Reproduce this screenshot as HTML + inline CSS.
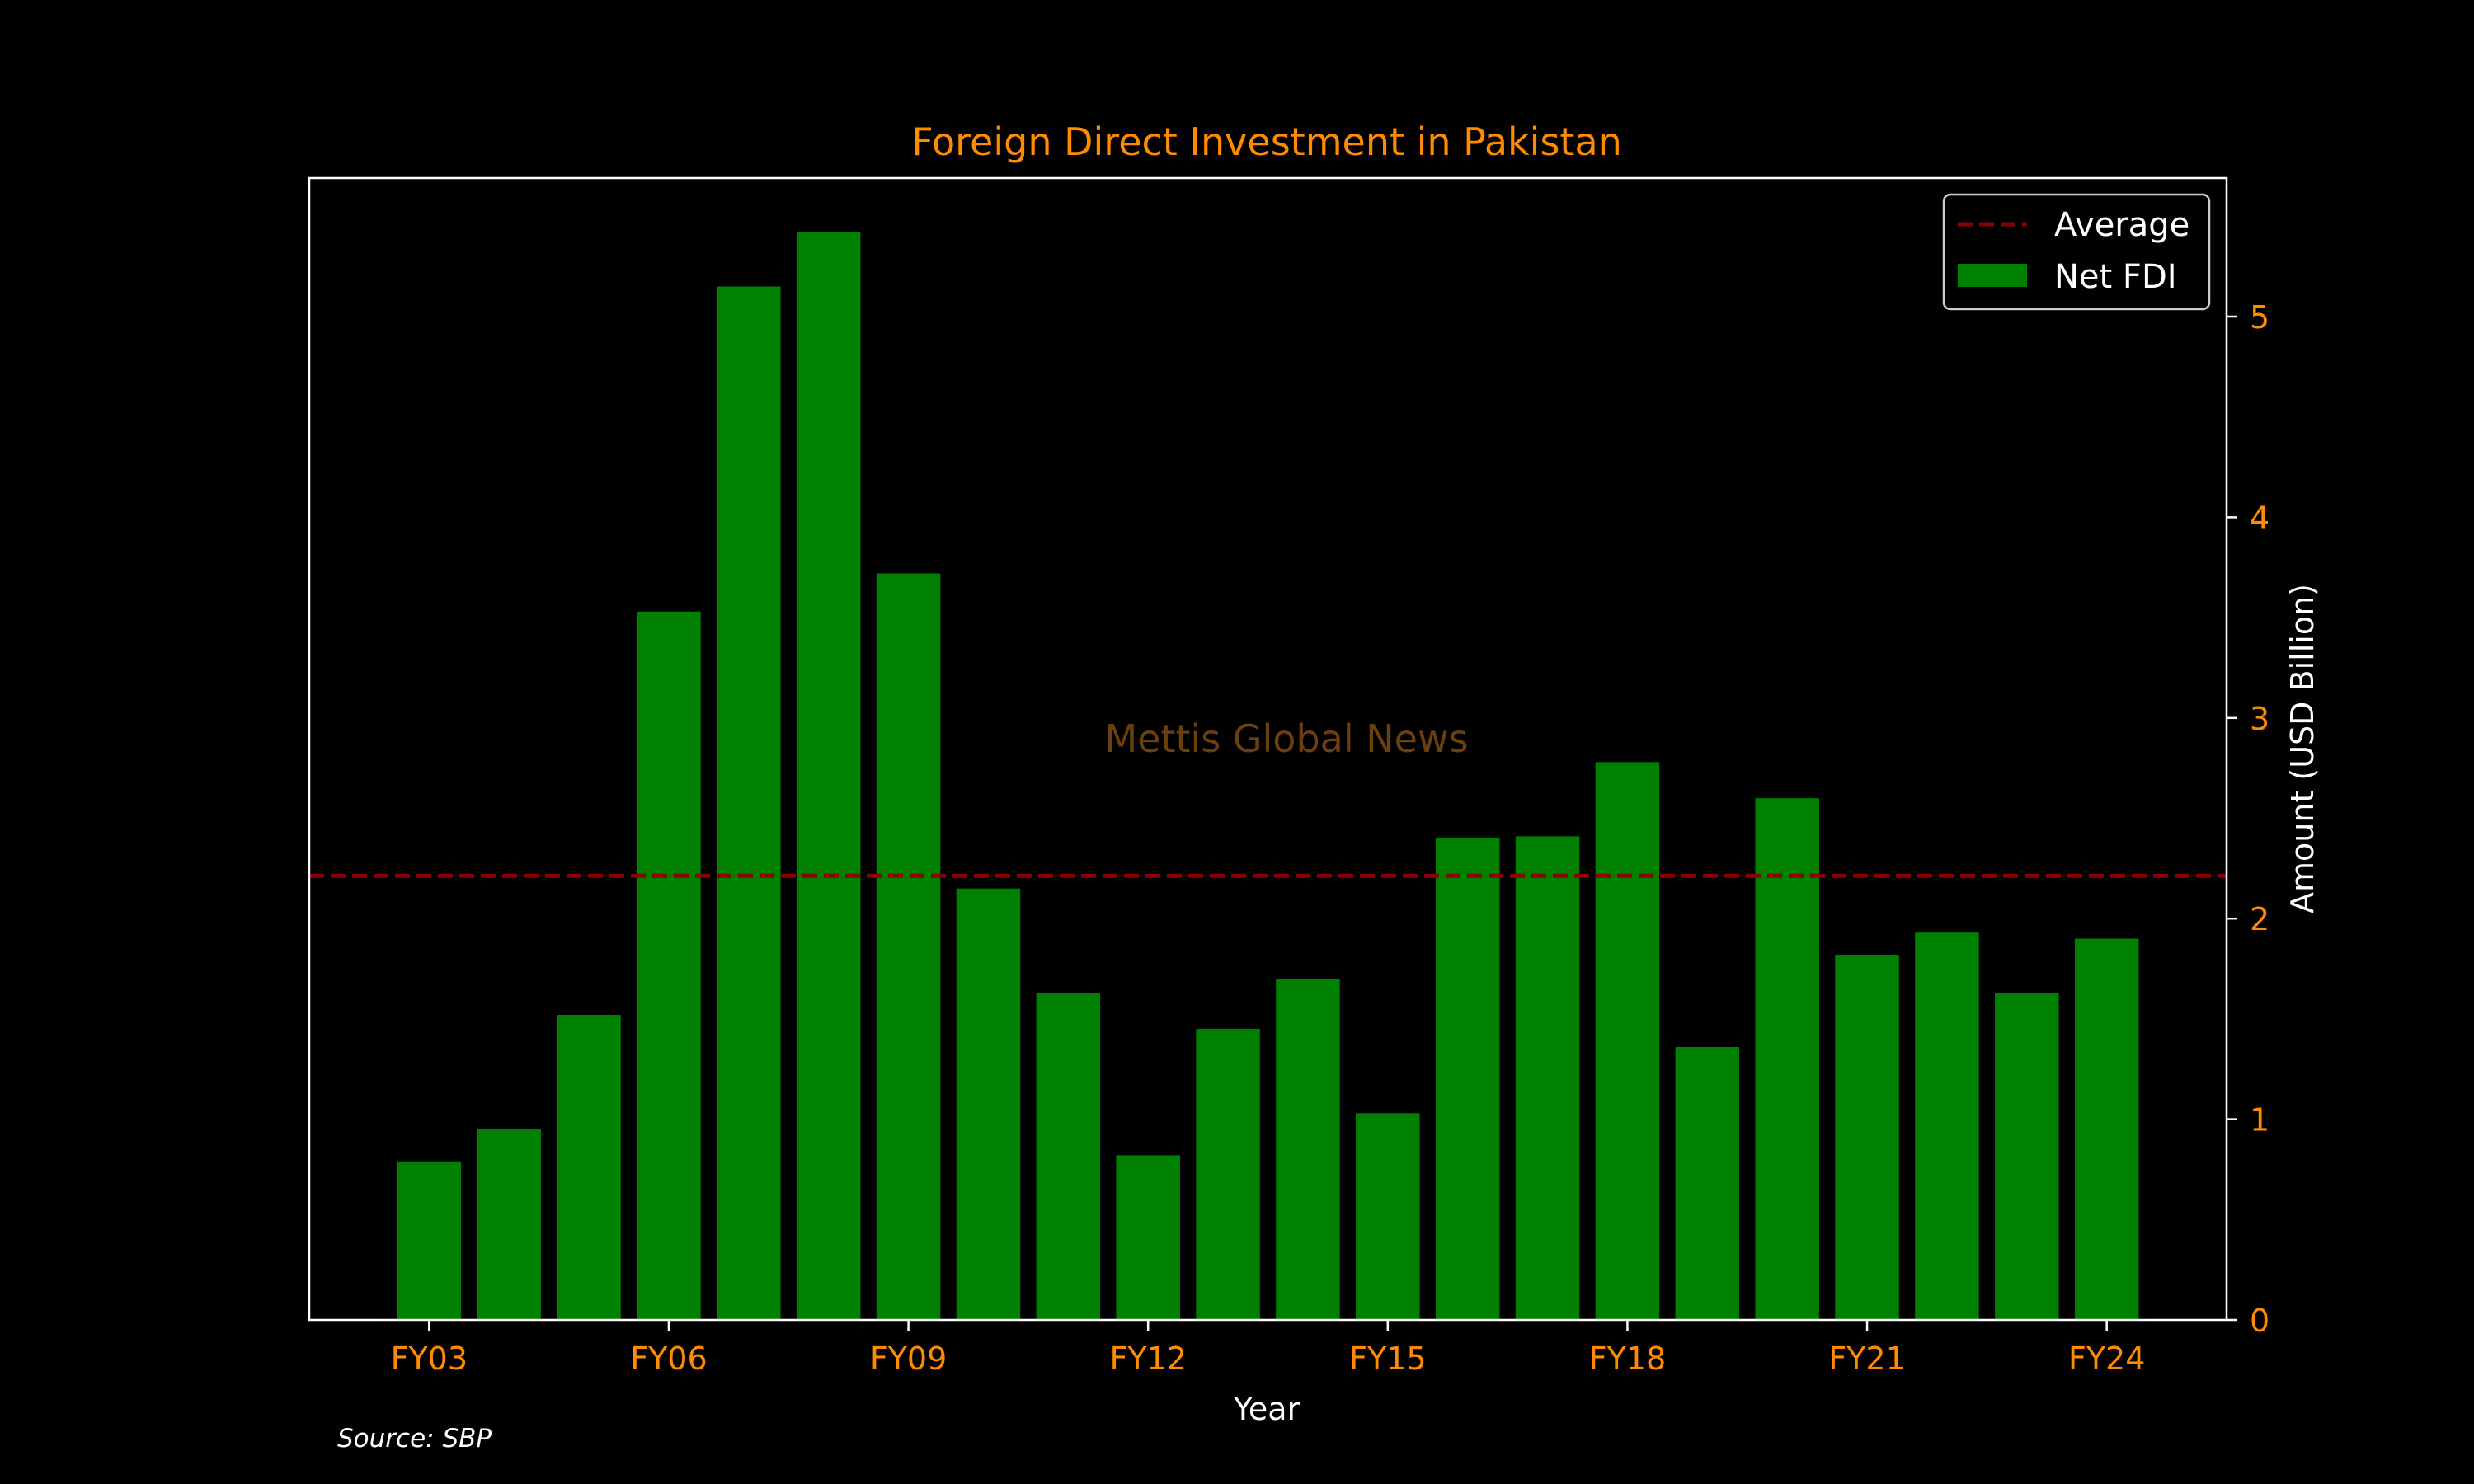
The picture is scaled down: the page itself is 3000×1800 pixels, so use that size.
<!DOCTYPE html>
<html><head><meta charset="utf-8"><style>
html,body{margin:0;padding:0;background:#000;}
svg{display:block;font-family:"DejaVu Sans","Liberation Sans",sans-serif;}
</style></head><body>
<svg id="chart" width="3000" height="1800" viewBox="0 0 3000 1800">
<rect x="0" y="0" width="3000" height="1800" fill="#000"/>
<text x="1536" y="188" text-anchor="middle" font-size="46" fill="#ff8c00">Foreign Direct Investment in Pakistan</text>
<g id="bars"></g>
<g id="avg"></g>
<text x="1560" y="912" text-anchor="middle" font-size="46" fill="#6b3f10">Mettis Global News</text>
<rect x="375" y="216" width="2325" height="1385" fill="none" stroke="#fff" stroke-width="2.5"/>
<g id="xticks"></g>
<g id="yticks"></g>
<text x="1536" y="1722" text-anchor="middle" font-size="38" fill="#fff">Year</text>
<text transform="translate(2805,908) rotate(-90)" text-anchor="middle" font-size="38" fill="#fff">Amount (USD Billion)</text>
<text x="409" y="1755" font-size="31" font-style="italic" fill="#fff">Source: SBP</text>
<g>
<rect x="2357" y="236" width="322" height="139" rx="8" fill="#000" stroke="#ccc" stroke-width="2.5"/>
<line x1="2374" y1="272" x2="2458" y2="272" stroke="#8b0000" stroke-width="5" stroke-dasharray="18,8"/>
<text x="2491" y="286" font-size="40" fill="#fff">Average</text>
<rect x="2374" y="320" width="84" height="28" fill="#008000"/>
<text x="2491" y="349" font-size="40" fill="#fff">Net FDI</text>
</g>
</svg>
<script>
const categories = ["FY03","FY04","FY05","FY06","FY07","FY08","FY09","FY10","FY11","FY12","FY13","FY14","FY15","FY16","FY17","FY18","FY19","FY20","FY21","FY22","FY23","FY24"];
const netFdi = [0.79,0.95,1.52,3.53,5.15,5.42,3.72,2.15,1.63,0.82,1.45,1.70,1.03,2.40,2.41,2.78,1.36,2.60,1.82,1.93,1.63,1.90];
const yTicks = [0,1,2,3,4,5];
const xTickLabels = ["FY03","FY06","FY09","FY12","FY15","FY18","FY21","FY24"];

const NS = "http://www.w3.org/2000/svg";
const L = 375, R = 2700, T = 216, B = 1601;
const xMin = -1.5, xMax = 22.5;
const yPerUnit = 243.4;
const xs = i => L + (i - xMin) / (xMax - xMin) * (R - L);
const ys = v => B - v * yPerUnit;
const step = (R - L) / (xMax - xMin);

const bars = document.getElementById('bars');
netFdi.forEach((v, i) => {
  const r = document.createElementNS(NS, 'rect');
  r.setAttribute('x', xs(i) - step * 0.4);
  r.setAttribute('width', step * 0.8);
  r.setAttribute('y', ys(v));
  r.setAttribute('height', B - ys(v));
  r.setAttribute('fill', '#008000');
  
  
  bars.appendChild(r);
});

const avg = netFdi.reduce((a, b) => a + b, 0) / netFdi.length;
const al = document.createElementNS(NS, 'line');
al.setAttribute('x1', L); al.setAttribute('x2', R);
al.setAttribute('y1', ys(avg)); al.setAttribute('y2', ys(avg));
al.setAttribute('stroke', '#8b0000'); al.setAttribute('stroke-width', 5);
al.setAttribute('stroke-dasharray', '18,8');


document.getElementById('avg').appendChild(al);

const xg = document.getElementById('xticks');
xTickLabels.forEach(lab => {
  const i = categories.indexOf(lab);
  const x = xs(i);
  const t = document.createElementNS(NS, 'line');
  t.setAttribute('x1', x); t.setAttribute('x2', x);
  t.setAttribute('y1', B); t.setAttribute('y2', B + 13);
  t.setAttribute('stroke', '#fff'); t.setAttribute('stroke-width', 2.5);
  
  
  xg.appendChild(t);
  const tx = document.createElementNS(NS, 'text');
  tx.setAttribute('x', x); tx.setAttribute('y', B + 60);
  tx.setAttribute('text-anchor', 'middle'); tx.setAttribute('font-size', 38);
  tx.setAttribute('fill', '#ff8c00');
  
  
  tx.textContent = lab;
  xg.appendChild(tx);
});

const yg = document.getElementById('yticks');
yTicks.forEach(v => {
  const y = ys(v);
  const t = document.createElementNS(NS, 'line');
  t.setAttribute('x1', R); t.setAttribute('x2', R + 13);
  t.setAttribute('y1', y); t.setAttribute('y2', y);
  t.setAttribute('stroke', '#fff'); t.setAttribute('stroke-width', 2.5);
  
  
  yg.appendChild(t);
  const tx = document.createElementNS(NS, 'text');
  tx.setAttribute('x', R + 28); tx.setAttribute('y', y + 14);
  tx.setAttribute('font-size', 38); tx.setAttribute('fill', '#ff8c00');
  
  
  tx.textContent = v;
  yg.appendChild(tx);
});
</script>
</body></html>
